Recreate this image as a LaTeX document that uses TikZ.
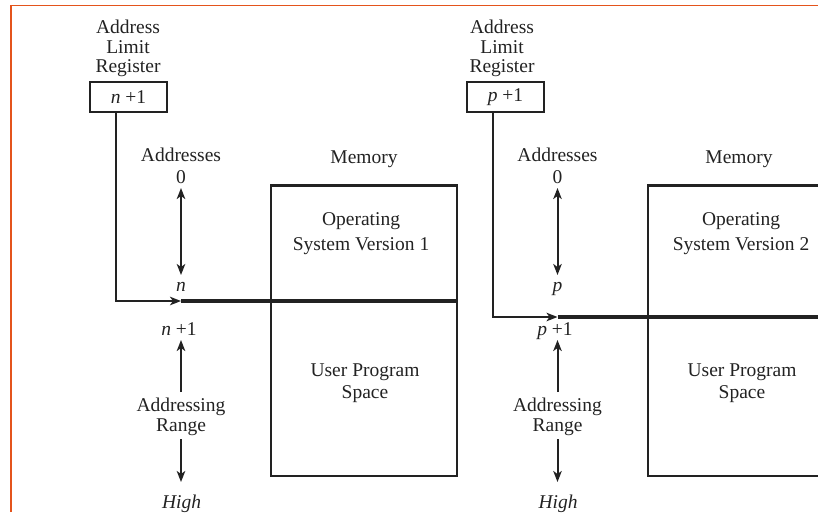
\documentclass[tikz,border=0pt]{standalone}
\usepackage{fontspec}
\setmainfont{Liberation Serif}
\usetikzlibrary{arrows.meta}
\definecolor{ink}{HTML}{222222}
\definecolor{frameorange}{HTML}{E4541C}

\begin{document}
\begin{tikzpicture}[x=1pt,y=-1pt,
  % multi-line labels are placed by the baseline of their last line
  lbl/.style={inner sep=0pt, outer sep=0pt, anchor=base, align=center, text=ink,
              font=\fontsize{19.5}{#1}\selectfont},
  lbl/.default=19.5,
  regbox/.style={draw=ink, line width=2.3pt, minimum width=77pt, minimum height=30pt,
                 inner sep=0pt, text=ink, font=\fontsize{19.5}{19.5}\selectfont},
  membox/.style={draw=ink, line width=2.4pt},
  thin/.style={draw=ink, line width=2pt},
  boundary/.style={draw=ink, line width=4.4pt},
  tip/.style={Stealth[length=11pt,width=8.5pt,inset=3pt]},
  arr/.style={thin, -{Stealth[length=11pt,width=8.5pt,inset=3pt]}},
  darr/.style={thin, {Stealth[length=11pt,width=8.5pt,inset=3pt]}-{Stealth[length=11pt,width=8.5pt,inset=3pt]}}
]
\useasboundingbox (0,0) rectangle (818,512);
\clip (0,0) rectangle (818,512);

% page frame
\draw[frameorange, line width=1.8pt] (10.7,512) -- (10.7,5.5) -- (818,5.5);

% ---------------- left panel: base register holds n+1 ----------------
\node[lbl] (regLabA) at (128,72.5) {Address\\Limit\\Register};
\node[regbox] (regA) at (128.5,97) {\textit{n} +1};

\node[lbl=22] (addrA) at (181,183) {Addresses\\0};
\coordinate (addrTopA) at (181,188);
\coordinate (addrBotA) at (181,275);
\draw[darr] (addrTopA) -- (addrBotA);
\node[lbl] (nA) at (181,291) {\textit{n}};

\coordinate (bendA) at (116,301);
\coordinate (tipA) at (181,301);
\draw[arr] (regA.south -| bendA) -- (bendA) -- (tipA);

\node[lbl] (npA) at (179,335) {\textit{n} +1};
\coordinate (upTipA) at (181,340);
\coordinate (upBaseA) at (181,392);
\draw[arr] (upBaseA) -- (upTipA);
\node[lbl=20] (rangeA) at (181,431.7) {Addressing\\Range};
\coordinate (dnBaseA) at (181,439);
\coordinate (dnTipA) at (181,482);
\draw[arr] (dnBaseA) -- (dnTipA);
\node[lbl] (highA) at (181.5,508) {\textit{High}};

\node[lbl] (memLabA) at (364,163) {Memory};
\node[draw=none, inner sep=0pt, minimum width=185.5pt, minimum height=290.5pt] (memA) at (363.75,330.75) {};
\draw[membox] (memA.north west) rectangle (memA.south east);
\coordinate (bndEndA) at (memA.east |- tipA);
\draw[boundary] (tipA) -- (bndEndA);
\node[lbl=25] (osA) at (361,250.7) {Operating\\System Version 1};
\node[lbl=21.5] (upsA) at (365,398) {User Program\\Space};

% ---------------- right panel: base register holds p+1 ----------------
\node[lbl] (regLabB) at (502,72.5) {Address\\Limit\\Register};
\node[regbox] (regB) at (505.5,97) {\textit{p} +1};

\node[lbl=22] (addrB) at (557.5,183) {Addresses\\0};
\coordinate (addrTopB) at (557.5,188);
\coordinate (addrBotB) at (557.5,275);
\draw[darr] (addrTopB) -- (addrBotB);
\node[lbl] (nB) at (557.5,291.5) {\textit{p}};

\coordinate (bendB) at (492.7,317);
\coordinate (tipB) at (557.5,317);
\draw[arr] (regB.south -| bendB) -- (bendB) -- (tipB);

\node[lbl] (npB) at (555,335) {\textit{p} +1};
\coordinate (upTipB) at (557.5,340);
\coordinate (upBaseB) at (557.5,392);
\draw[arr] (upBaseB) -- (upTipB);
\node[lbl=20] (rangeB) at (557.5,431.7) {Addressing\\Range};
\coordinate (dnBaseB) at (557.5,439);
\coordinate (dnTipB) at (557.5,482);
\draw[arr] (dnBaseB) -- (dnTipB);
\node[lbl] (highB) at (558,508) {\textit{High}};

\node[lbl] (memLabB) at (739,163) {Memory};
\node[draw=none, inner sep=0pt, minimum width=185.5pt, minimum height=290.5pt] (memB) at (740.75,330.75) {};
\draw[membox] (memB.north west) rectangle (memB.south east);
\coordinate (bndEndB) at (memB.east |- tipB);
\draw[boundary] (tipB) -- (bndEndB);
\node[lbl=25] (osB) at (741,250.7) {Operating\\System Version 2};
\node[lbl=21.5] (upsB) at (742,398) {User Program\\Space};
\end{tikzpicture}
\end{document}
